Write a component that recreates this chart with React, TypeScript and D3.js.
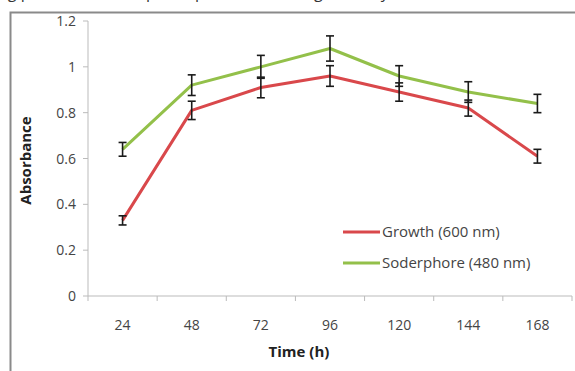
import React, { useEffect, useRef } from "react";
import * as d3 from "d3";

const hours = ["24", "48", "72", "96", "120", "144", "168"];
const growth = [0.33, 0.81, 0.91, 0.96, 0.89, 0.82, 0.61];
const growthErr = [0.02, 0.04, 0.045, 0.045, 0.04, 0.035, 0.03];
const sidero = [0.64, 0.92, 1.0, 1.08, 0.96, 0.89, 0.84];
const sideroErr = [0.03, 0.045, 0.05, 0.055, 0.045, 0.045, 0.04];
const yTicks = [0, 0.2, 0.4, 0.6, 0.8, 1, 1.2];
const seriesNames = ["Growth (600 nm)", "Soderphore (480 nm)"];

export default function App() {
  const svgRef = useRef<SVGSVGElement>(null);

  useEffect(() => {
    const svg = d3.select(svgRef.current);
    svg.selectAll("*").remove();

    const W = 575, H = 371;
    const left = 88, right = 572, top = 21, bottom = 296;
    const font = "'Open Sans', 'Liberation Sans', sans-serif";

    svg.append("rect").attr("width", W).attr("height", H).attr("fill", "#fff");

    // caption of the page above, only its descenders show
    svg.append("text")
      .attr("x", -2).attr("y", -2)
      .attr("font-family", font).attr("font-size", 16).attr("fill", "#333")
      .text("ng pattern of siderophore production and growth by the isolate");

    // frame
    svg.append("path")
      .attr("d", `M10.5,${H} V12.5 H${W}`)
      .attr("fill", "none").attr("stroke", "#8a8a8a").attr("stroke-width", 2);

    const x = d3.scaleBand().domain(hours).range([left, right]);
    const y = d3.scaleLinear().domain([0, 1.2]).range([bottom, top]);

    // y axis
    const g = svg.append("g");
    g.append("line").attr("x1", left).attr("x2", left).attr("y1", top).attr("y2", bottom)
      .attr("stroke", "#bbb");
    yTicks.forEach(t => {
      g.append("line").attr("x1", left - 5).attr("x2", left).attr("y1", y(t)).attr("y2", y(t))
        .attr("stroke", "#bbb");
      g.append("text").attr("x", left - 12).attr("y", y(t) + 5).attr("text-anchor", "end")
        .attr("font-family", font).attr("font-size", 14).attr("fill", "#444")
        .text(String(t));
    });

    // x axis
    g.append("line").attr("x1", left).attr("x2", right).attr("y1", bottom).attr("y2", bottom)
      .attr("stroke", "#bbb");
    [...hours.map(h => x(h)!), right].forEach(px => {
      g.append("line").attr("x1", px).attr("x2", px).attr("y1", bottom).attr("y2", bottom + 5)
        .attr("stroke", "#bbb");
    });
    hours.forEach(h => {
      g.append("text").attr("x", x(h)! + x.bandwidth() / 2).attr("y", bottom + 34)
        .attr("text-anchor", "middle")
        .attr("font-family", font).attr("font-size", 14).attr("fill", "#444")
        .text(h);
    });

    // axis titles
    svg.append("text")
      .attr("transform", `translate(31,${(top + bottom) / 2 + 2}) rotate(-90)`)
      .attr("text-anchor", "middle")
      .attr("font-family", font).attr("font-size", 15).attr("font-weight", "bold").attr("fill", "#222")
      .text("Absorbance");
    svg.append("text")
      .attr("x", 299).attr("y", 357).attr("text-anchor", "middle")
      .attr("font-family", font).attr("font-size", 15).attr("font-weight", "bold").attr("fill", "#222")
      .text("Time (h)");

    const cx = (i: number) => x(hours[i])! + x.bandwidth() / 2;
    const line = d3.line<number>().x((_, i) => cx(i)).y(d => y(d));

    const series = [
      { vals: growth, err: growthErr, color: "#d9484b" },
      { vals: sidero, err: sideroErr, color: "#93c04a" },
    ];

    series.forEach(s => {
      svg.append("path").datum(s.vals).attr("d", line)
        .attr("fill", "none").attr("stroke", s.color).attr("stroke-width", 3)
        .attr("stroke-linejoin", "round");
    });

    series.forEach(s => {
      s.vals.forEach((v, i) => {
        const px = cx(i);
        const y0 = y(v - s.err[i]), y1 = y(v + s.err[i]);
        const eb = svg.append("g").attr("stroke", "#1a1a1a").attr("stroke-width", 1.6);
        eb.append("line").attr("x1", px).attr("x2", px).attr("y1", y0).attr("y2", y1);
        eb.append("line").attr("x1", px - 4).attr("x2", px + 4).attr("y1", y0).attr("y2", y0);
        eb.append("line").attr("x1", px - 4).attr("x2", px + 4).attr("y1", y1).attr("y2", y1);
      });
    });

    // legend
    series.forEach((s, i) => {
      const ly = 232 + i * 31;
      svg.append("line").attr("x1", 343).attr("x2", 380).attr("y1", ly).attr("y2", ly)
        .attr("stroke", s.color).attr("stroke-width", 3);
      svg.append("text").attr("x", 382).attr("y", ly + 5)
        .attr("font-family", font).attr("font-size", 15).attr("fill", "#444")
        .text(seriesNames[i]);
    });
  }, []);

  return (
    <svg ref={svgRef} width={575} height={371}
      style={{ position: "absolute", left: 0, top: 0 }} />
  );
}
